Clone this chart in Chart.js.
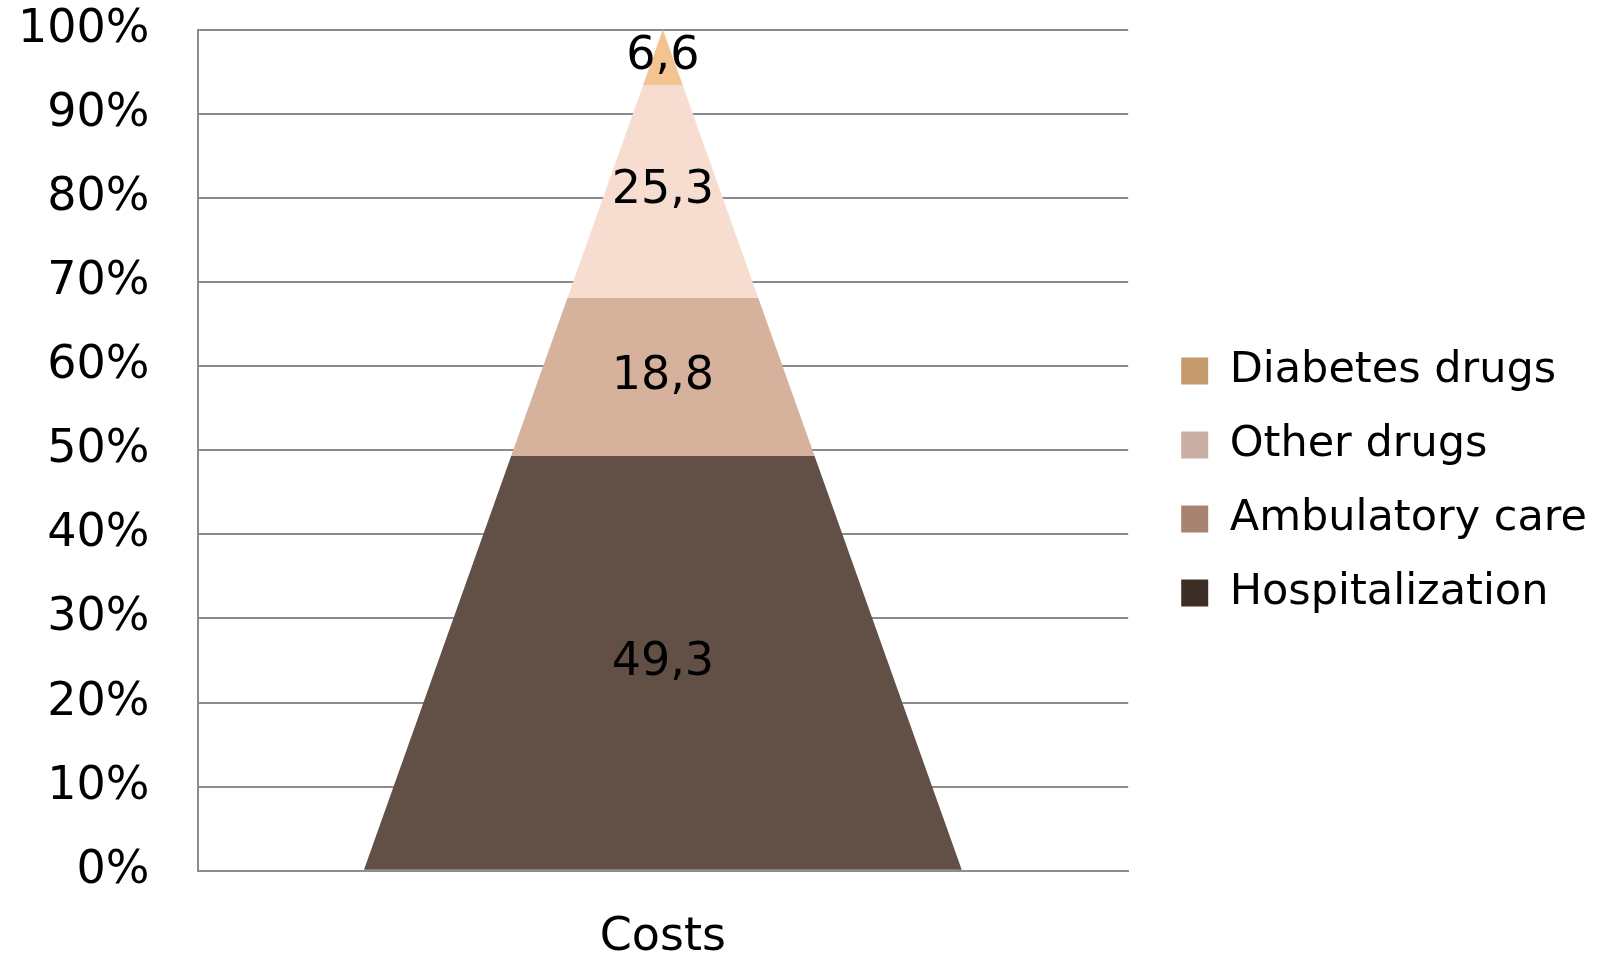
<!DOCTYPE html>
<html>
<head>
<meta charset="utf-8">
<script src="https://cdn.jsdelivr.net/npm/chart.js@4"></script>
<style>
  html, body { margin: 0; padding: 0; background: #fff; }
  #wrap { width: 1619px; height: 955px; }
</style>
</head>
<body>
<div id="wrap"><canvas id="chart"></canvas></div>
<script>
// share of total costs, %
const categories = ['Costs'];
const seriesNames = ['Hospitalization', 'Ambulatory care', 'Other drugs', 'Diabetes drugs'];
const seriesValues = [49.3, 18.8, 25.3, 6.6];
const pyramidColors = ['#625047', '#d6b19c', '#f7ddd0', '#f4c392'];
const legendColors = ['#3d2e26', '#a8836f', '#c9aea3', '#c59a6c'];

Chart.defaults.font.family = '"DejaVu Sans", Verdana, sans-serif';
Chart.defaults.color = '#000';

// stacked bars drawn as slices of one pyramid
const pyramidPlugin = {
    id: 'pyramid',
    afterLayout(chart) {
        // legend boxes sit a bit further right than the default padding puts them
        chart.legend.left += 22;
        chart.legend.right += 22;
    },
    beforeDatasetsDraw(chart) {
        const ctx = chart.ctx;
        const yScale = chart.scales.y;
        const apex = yScale.getPixelForValue(100);
        const bottom = yScale.getPixelForValue(0);
        ctx.save();
        chart.data.datasets.forEach((ds, i) => {
            const p = chart.getDatasetMeta(i).data[0].getProps(['x', 'y', 'base', 'width'], true);
            const half = py => (p.width / 2) * (py - apex) / (bottom - apex);
            ctx.beginPath();
            ctx.moveTo(p.x - half(p.base), p.base);
            ctx.lineTo(p.x + half(p.base), p.base);
            ctx.lineTo(p.x + half(p.y), p.y);
            ctx.lineTo(p.x - half(p.y), p.y);
            ctx.closePath();
            ctx.fillStyle = pyramidColors[i];
            ctx.fill();
        });
        // value labels, decimal comma
        ctx.font = '46px "DejaVu Sans", Verdana, sans-serif';
        ctx.fillStyle = '#000';
        ctx.textAlign = 'center';
        ctx.textBaseline = 'middle';
        chart.data.datasets.forEach((ds, i) => {
            const p = chart.getDatasetMeta(i).data[0].getProps(['x', 'y', 'base'], true);
            ctx.fillText(String(ds.data[0]).replace('.', ','), p.x, (p.y + p.base) / 2);
        });
        ctx.restore();
        return false;
    }
};

new Chart(document.getElementById('chart'), {
    type: 'bar',
    data: {
        labels: categories,
        datasets: seriesNames.map((name, i) => ({
            label: name,
            data: [seriesValues[i]],
            backgroundColor: legendColors[i],
            borderWidth: 0,
            barPercentage: 0.643,
            categoryPercentage: 1
        }))
    },
    options: {
        responsive: true,
        maintainAspectRatio: false,
        animation: false,
        layout: { padding: { left: 16, right: 44, top: -42, bottom: -51 } },
        plugins: {
            tooltip: { enabled: false },
            legend: {
                position: 'right',
                reverse: true,
                maxWidth: 600,
                labels: { font: { size: 43 }, boxWidth: 27, boxHeight: 27, padding: 31, color: '#000' }
            }
        },
        scales: {
            x: {
                stacked: true,
                grid: { display: false, drawTicks: false },
                border: { display: true, color: '#8c8c8c', width: 2 },
                ticks: { font: { size: 46 }, padding: 40, color: '#000' }
            },
            y: {
                stacked: true,
                min: 0,
                max: 100,
                grid: { color: '#8c8c8c', lineWidth: 2, drawTicks: true, tickLength: 46, tickColor: 'rgba(0,0,0,0)' },
                border: { display: true, color: '#8c8c8c', width: 2 },
                ticks: { stepSize: 10, font: { size: 46 }, padding: 2, color: '#000', callback: v => v + '%' }
            }
        }
    },
    plugins: [pyramidPlugin]
});
</script>
</body>
</html>
